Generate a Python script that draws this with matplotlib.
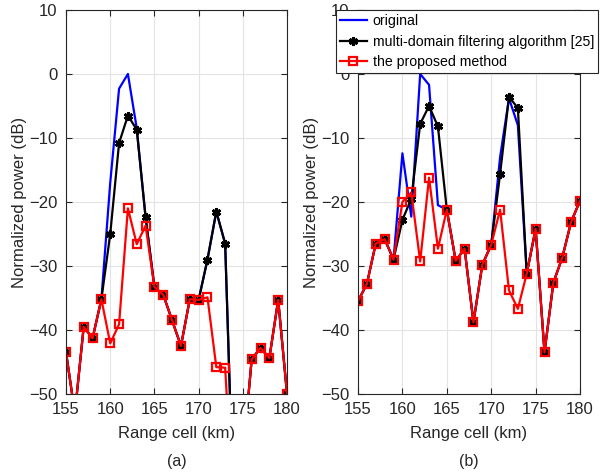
import numpy as np
import matplotlib.pyplot as plt

plt.rcParams['font.family'] = ['Liberation Sans', 'DejaVu Sans']

# range cells (km)
cells = np.arange(155, 181)

# panel (a)
red_a = [-43.5, -53.0, -39.5, -41.3, -35.2, -42.1, -39.1, -21.0, -26.6, -23.7,
         -33.3, -34.5, -38.5, -42.5, -35.2, -35.3, -34.9, -45.8, -45.9, -70.0,
         -60.0, -44.6, -42.8, -44.4, -35.3, -50.0]
black_a = [-43.5, -53.0, -39.5, -41.3, -35.2, -25.0, -10.8, -6.5, -8.7, -22.4,
           -33.3, -34.5, -38.5, -42.5, -35.2, -35.3, -29.0, -21.5, -26.5, -70.0,
           -60.0, -44.6, -42.8, -44.4, -35.3, -50.0]
blue_a = [-43.5, -53.0, -39.5, -41.3, -35.2, -17.0, -2.3, 0.0, -8.5, -22.4,
          -33.3, -34.5, -38.5, -42.5, -35.2, -35.3, -29.0, -21.5, -26.5, -70.0,
          -60.0, -44.6, -42.8, -44.4, -35.3, -50.0]

# panel (b)
red_b = [-35.5, -32.8, -26.5, -25.8, -29.0, -20.0, -18.5, -29.3, -16.2, -27.3,
         -21.2, -29.2, -27.3, -38.8, -29.8, -26.7, -21.2, -33.8, -36.7, -31.2,
         -24.2, -43.5, -32.6, -28.7, -23.1, -19.8]
black_b = [-35.5, -32.8, -26.5, -25.8, -29.0, -22.8, -19.5, -7.8, -5.0, -8.2,
           -21.2, -29.2, -27.3, -38.8, -29.8, -26.7, -15.6, -3.6, -5.3, -31.2,
           -24.2, -43.5, -32.6, -28.7, -23.1, -19.8]
blue_b = [-35.5, -32.8, -26.5, -25.8, -29.0, -12.4, -22.3, 0.0, -1.7, -20.5,
          -21.2, -29.2, -27.3, -38.8, -29.8, -26.7, -13.0, -3.8, -8.0, -31.2,
          -24.2, -43.5, -32.6, -28.7, -23.1, -19.8]

labels = ['original', 'multi-domain filtering algorithm [25]', 'the proposed method']
axcol = '#262626'

fig = plt.figure(figsize=(6.03, 4.72), dpi=100)
ax1 = fig.add_axes([0.1095, 0.1653, 0.3665, 0.8136])
ax2 = fig.add_axes([0.5937, 0.1653, 0.3682, 0.8136])


def draw(ax, blue, black, red, caption):
    ax.plot(cells, blue, color='#0000ff', lw=1.6, label=labels[0])
    ax.plot(cells, black, color='black', lw=1.6, marker=(6, 2, 0), ms=6.5, mew=2,
            label=labels[1])
    ax.plot(cells, red, color='#ff0000', lw=1.6, marker='s', ms=6, mew=1.6,
            mfc='none', label=labels[2])
    ax.set_xlim(155, 180)
    ax.set_ylim(-50, 10)
    ax.set_xticks(np.arange(155, 181, 5))
    ax.set_yticks(np.arange(-50, 11, 10))
    ax.grid(True, color='#e3e3e3', lw=0.8)
    ax.set_axisbelow(True)
    ax.tick_params(direction='in', top=True, right=True, labelsize=12,
                   colors=axcol, length=4, pad=6)
    for s in ax.spines.values():
        s.set_color(axcol)
        s.set_linewidth(0.8)
    ax.set_xlabel('Range cell (km)', fontsize=12, color=axcol, labelpad=6)
    ax.set_ylabel('Normalized power (dB)', fontsize=12, color=axcol, labelpad=2)
    ax.text(0.5, -0.155, caption, transform=ax.transAxes, ha='center', va='top',
            fontsize=11.5, color=axcol)


draw(ax1, blue_a, black_a, red_a, '(a)')
draw(ax2, blue_b, black_b, red_b, '(b)')

handles, names = ax2.get_legend_handles_labels()
leg = fig.legend(handles, names, loc='upper right', bbox_to_anchor=(0.992, 0.979),
                 fontsize=10.2, fancybox=False, framealpha=1, edgecolor=axcol,
                 borderpad=0.3, labelspacing=0.45, handlelength=1.9,
                 handletextpad=0.4, borderaxespad=0)
leg.get_frame().set_linewidth(0.8)

fig.savefig('out.png', dpi=100)
